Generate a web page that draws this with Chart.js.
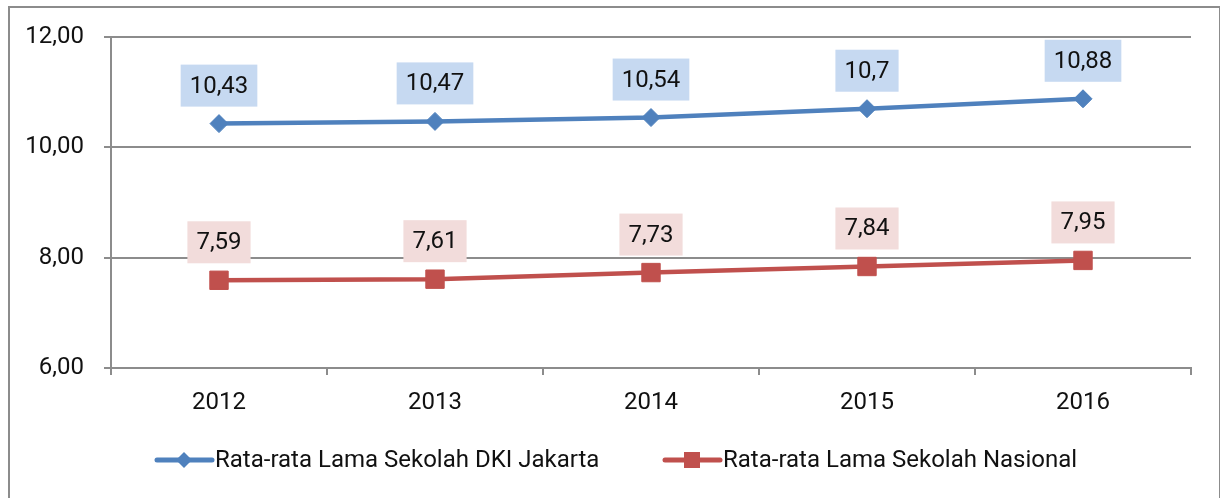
<!DOCTYPE html>
<html>
<head>
<meta charset="utf-8">
<script src="https://cdn.jsdelivr.net/npm/chart.js@4"></script>
<style>
  html, body { margin: 0; padding: 0; background: #fff; }
  #frame { position: absolute; left: 8px; top: 6px; width: 1209px; height: 520px; border: 2px solid #8c8c8c; border-bottom: none; }
  #myChart { position: absolute; left: 0; top: 0; }
</style>
</head>
<body>
<div id="frame"></div>
<canvas id="myChart" width="1220" height="498"></canvas>
<script>
let years = ['2012', '2013', '2014', '2015', '2016'];
let jakartaData = [10.43, 10.47, 10.54, 10.7, 10.88];
let nasionalData = [7.59, 7.61, 7.73, 7.84, 7.95];
let jakartaLabels = ['10,43', '10,47', '10,54', '10,7', '10,88'];
let nasionalLabels = ['7,59', '7,61', '7,73', '7,84', '7,95'];
let seriesNames = ['Rata-rata Lama Sekolah DKI Jakarta', 'Rata-rata Lama Sekolah Nasional'];

const FONT = 'Roboto, "Noto Sans", sans-serif';
const blue = '#4f81bd';
const red = '#c0504d';
const boxColors = ['#c6d9f1', '#f2dcdb'];

// label boxes above points + custom legend
const labelBoxes = {
    id: 'labelBoxes',
    afterDatasetsDraw(chart) {
        const ctx = chart.ctx;
        const allLabels = [jakartaLabels, nasionalLabels];
        ctx.save();
        ctx.font = '24px ' + FONT;
        ctx.textAlign = 'center';
        ctx.textBaseline = 'middle';
        chart.data.datasets.forEach((ds, i) => {
            let meta = chart.getDatasetMeta(i);
            meta.data.forEach((pt, j) => {
                let txt = allLabels[i][j];
                let w = ctx.measureText(txt).width + 18;
                let h = 42;
                let cy = pt.y - 38;
                ctx.fillStyle = boxColors[i];
                ctx.fillRect(pt.x - w / 2, cy - h / 2, w, h);
                ctx.fillStyle = '#111';
                ctx.fillText(txt, pt.x, cy + 1);
            });
        });

        // legend
        let items = [
            { x: 157, color: blue, style: 'diamond', text: seriesNames[0] },
            { x: 665, color: red, style: 'square', text: seriesNames[1] }
        ];
        let ly = 460;
        items.forEach(it => {
            ctx.strokeStyle = it.color;
            ctx.lineWidth = 5;
            ctx.lineCap = 'round';
            ctx.beginPath();
            ctx.moveTo(it.x, ly);
            ctx.lineTo(it.x + 55, ly);
            ctx.stroke();
            ctx.fillStyle = it.color;
            let cx = it.x + 27;
            if (it.style === 'diamond') {
                ctx.beginPath();
                ctx.moveTo(cx, ly - 8);
                ctx.lineTo(cx + 8, ly);
                ctx.lineTo(cx, ly + 8);
                ctx.lineTo(cx - 8, ly);
                ctx.closePath();
                ctx.fill();
            } else {
                ctx.fillRect(cx - 8, ly - 8, 16, 16);
            }
            ctx.fillStyle = '#111';
            ctx.textAlign = 'left';
            ctx.fillText(it.text, it.x + 58, ly + 1);
        });
        ctx.restore();
    }
};

const ctx = document.getElementById('myChart');

new Chart(ctx, {
    type: 'line',
    data: {
        labels: years,
        datasets: [{
            label: seriesNames[0],
            data: jakartaData,
            borderColor: blue,
            backgroundColor: blue,
            borderWidth: 4.5,
            pointStyle: 'rectRot',
            pointRadius: 9,
            pointBorderWidth: 1,
            tension: 0,
        }, {
            label: seriesNames[1],
            data: nasionalData,
            borderColor: red,
            backgroundColor: red,
            borderWidth: 4.5,
            pointStyle: 'rect',
            pointRadius: 13,
            pointBorderWidth: 1,
            tension: 0,
        }]
    },
    options: {
        responsive: false,
        animation: false,
        layout: {
            padding: { left: 0, top: 37, right: 29, bottom: 80 }
        },
        scales: {
            x: {
                offset: true,
                grid: {
                    offset: true,
                    drawOnChartArea: false,
                    color: '#8c8c8c',
                    lineWidth: 2,
                    tickLength: 7,
                },
                border: { color: '#8c8c8c', width: 2 },
                ticks: {
                    color: '#111',
                    padding: 14,
                    font: { family: FONT, size: 24 },
                },
                afterFit(scale) { scale.height = 50; }
            },
            y: {
                min: 6,
                max: 12,
                grid: {
                    color: '#8c8c8c',
                    lineWidth: 2,
                    tickLength: 7,
                },
                border: { color: '#8c8c8c', width: 2 },
                ticks: {
                    stepSize: 2,
                    color: '#111',
                    padding: 20,
                    font: { family: FONT, size: 24 },
                    callback: v => v.toFixed(2).replace('.', ',')
                },
                afterFit(scale) { scale.width = 111; }
            }
        },
        plugins: {
            legend: { display: false },
            tooltip: { enabled: false }
        }
    },
    plugins: [labelBoxes]
});
</script>
</body>
</html>
